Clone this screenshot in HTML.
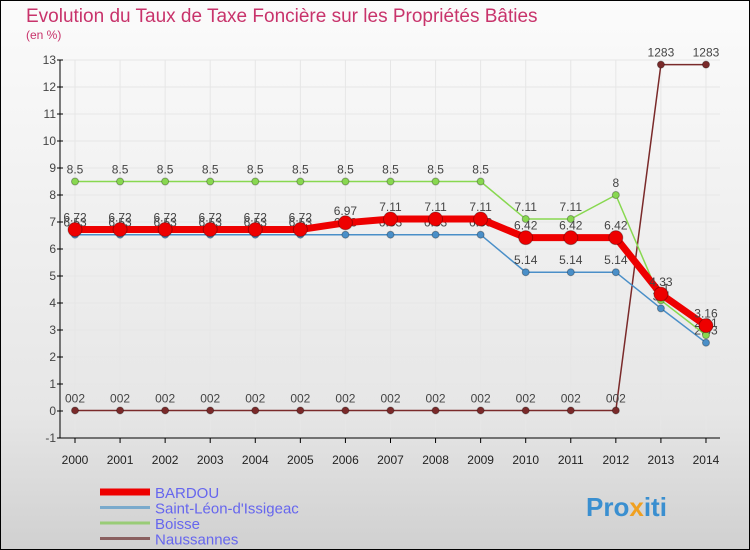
<!DOCTYPE html>
<html><head><meta charset="utf-8"><style>
body{margin:0}
#c{width:750px;height:550px;position:relative;overflow:hidden;font-family:"Liberation Sans",sans-serif}
</style></head><body>
<div id="c">
<svg width="750" height="550" xmlns="http://www.w3.org/2000/svg" id="svg">
<defs><linearGradient id="bg" x1="0" y1="0" x2="0" y2="1"><stop offset="0" stop-color="#fbfbfb"/><stop offset="0.75" stop-color="#e6e6e6"/><stop offset="1" stop-color="#d0d0d0"/></linearGradient></defs>
<rect x="0.5" y="0.5" width="749" height="549" fill="url(#bg)" stroke="#000"/>
<text x="26" y="22" font-size="19" fill="#c8336b">Evolution du Taux de Taxe Foncière sur les Propriétés Bâties</text>
<text x="26" y="39" font-size="12" fill="#c8336b">(en %)</text>
<g id="grid"></g><g id="axes"></g><g id="series"></g><g id="legend"></g>
<text x="586" y="516" font-size="26" font-weight="bold" fill="#3a8fd0">Pro<tspan fill="#f0a020">x</tspan>iti</text>
</svg>
</div>
<script>
const years=[2000,2001,2002,2003,2004,2005,2006,2007,2008,2009,2010,2011,2012,2013,2014];
const yTicks=[-1,0,1,2,3,4,5,6,7,8,9,10,11,12,13];
const bardou=[6.72,6.72,6.72,6.72,6.72,6.72,6.97,7.11,7.11,7.11,6.42,6.42,6.42,4.33,3.16];
const stleon=[6.53,6.53,6.53,6.53,6.53,6.53,6.53,6.53,6.53,6.53,5.14,5.14,5.14,3.8,2.53];
const boisse=[8.5,8.5,8.5,8.5,8.5,8.5,8.5,8.5,8.5,8.5,7.11,7.11,8,4.1,2.81];
const naus=[0.02,0.02,0.02,0.02,0.02,0.02,0.02,0.02,0.02,0.02,0.02,0.02,0.02,12.83,12.83];
const NS="http://www.w3.org/2000/svg";
const X=i=>75+i*45.07, Y=v=>411-v*27;
function mk(p,t,a){const e=document.createElementNS(NS,t);for(const k in a)e.setAttribute(k,a[k]);document.getElementById(p).appendChild(e);return e;}
yTicks.forEach(v=>{
 const l=mk('grid','line',{x1:60,x2:720,y1:Y(v),y2:Y(v),stroke:'#e6e6e6'});
 
 
 const t=mk('axes','text',{x:56,y:Y(v)+4,'font-size':12,fill:'#444','text-anchor':'end'});t.textContent=v;
 
 
 mk('axes','line',{x1:57,x2:63,y1:Y(v),y2:Y(v),stroke:'#000'});
});
mk('axes','line',{x1:60,x2:60,y1:Y(13),y2:Y(-1),stroke:'#000'});
mk('axes','line',{x1:60,x2:720,y1:Y(-1),y2:Y(-1),stroke:'#000'});
years.forEach((y,i)=>{
 mk('grid','line',{x1:X(i),x2:X(i),y1:Y(13),y2:Y(-1),stroke:'#e6e6e6'});
 mk('axes','line',{x1:X(i),x2:X(i),y1:Y(-1),y2:Y(-1)+5,stroke:'#000'});
 const t=mk('axes','text',{x:X(i),y:Y(-1)+26,'font-size':12,fill:'#222','text-anchor':'middle'});t.textContent=y;
 
 
});
function series(name,data,color,w,r,labels,fmt){
 const g=mk('series','g',{});
 
 
 const p=mk('series','polyline',{points:data.map((v,i)=>X(i)+','+Y(v)).join(' '),fill:'none',stroke:color,'stroke-width':w});
 g.appendChild(p);
 data.forEach((v,i)=>{
  const c=mk('series','circle',{cx:X(i),cy:Y(v),r:r,fill:color,stroke:'rgba(0,0,0,0.3)'});
  
  
  g.appendChild(c);
  if(labels){const t=mk('series','text',{x:X(i),y:Y(v)-8,'font-size':12,fill:'#444','text-anchor':'middle'});t.textContent=fmt(v);g.appendChild(t);}
 });
}
series('naussannes-series',naus,'#7a2a2a',1.5,3.5,true,v=>v.toFixed(2).replace('.',''));
series('saint-leon-series',stleon,'#4a8fc8',1.5,3.5,true,v=>String(v));
series('boisse-series',boisse,'#88d850',1.5,3.5,true,v=>String(v));
series('bardou-series',bardou,'#ee0000',7,7,true,v=>String(v));
const leg=[['BARDOU','#ee0000',7],['Saint-Léon-d\'Issigeac','#7aaacc',3],['Boisse','#99cc77',3],['Naussannes','#8a6060',3]];
leg.forEach((l,i)=>{
 const y=492+i*15.5;
 const ln=mk('legend','line',{x1:100,x2:150,y1:y,y2:y,stroke:l[1],'stroke-width':l[2]});
 
 
 const t=mk('legend','text',{x:155,y:y+6,'font-size':15,fill:'#6666ee'});t.textContent=l[0];
 
 
});
</script>
</body></html>
